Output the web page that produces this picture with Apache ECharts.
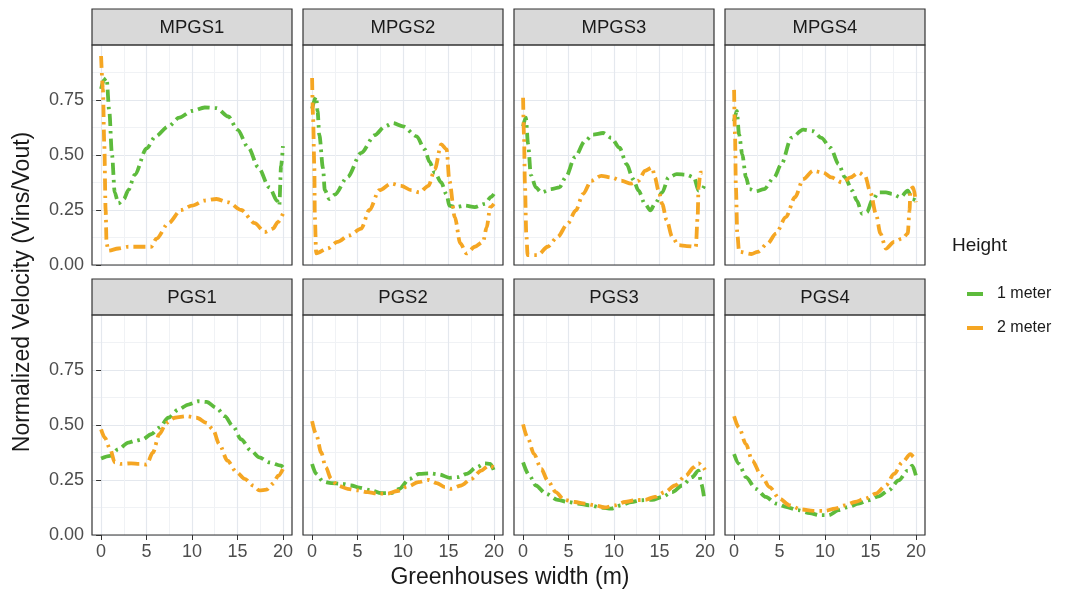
<!DOCTYPE html>
<html><head><meta charset="utf-8">
<script src="https://cdn.jsdelivr.net/npm/echarts@6/dist/echarts.min.js"></script>
<style>html,body{margin:0;padding:0;background:#fff}#c{width:1077px;height:596px}</style>
</head><body><div id="c"></div>
<script>
// ---------- data ----------
const panelNames = ['MPGS1','MPGS2','MPGS3','MPGS4','PGS1','PGS2','PGS3','PGS4'];
const seriesNames = ['1 meter','2 meter'];
const xTickValues = [0,5,10,15,20];
const xMinorValues = [2.5,7.5,12.5,17.5];
const yTickValues = [0,0.25,0.5,0.75];
const yMinorValues = [0.125,0.375,0.625,0.875];

const MPGS1_1m = [[0,0.80],[0.3,0.84],[0.6,0.85],[0.9,0.70],[1.2,0.50],[1.5,0.33],[1.9,0.28],[2.5,0.30],[3,0.34],[3.7,0.41],[5,0.53],[6,0.585],[7.4,0.63],[8.6,0.67],[10,0.70],[11.4,0.716],[12.7,0.713],[14,0.675],[15,0.615],[16.2,0.533],[17.3,0.443],[18.5,0.353],[19.4,0.29],[19.6,0.27],[19.8,0.45],[20,0.54]];
const MPGS1_2m = [[0,0.95],[0.2,0.80],[0.35,0.55],[0.5,0.25],[0.6,0.10],[0.8,0.065],[1.9,0.075],[3,0.083],[4.2,0.083],[5.5,0.083],[6.1,0.12],[7.4,0.19],[8.8,0.25],[10,0.27],[11.4,0.293],[12.7,0.30],[14,0.285],[15.4,0.25],[16.9,0.19],[18,0.15],[18.9,0.165],[19.45,0.195],[20,0.233]];
const MPGS2_1m = [[0,0.71],[0.45,0.765],[0.6,0.70],[0.8,0.59],[1.2,0.44],[1.4,0.34],[1.9,0.30],[2.5,0.32],[3.9,0.40],[5.4,0.51],[6.9,0.59],[8,0.63],[8.9,0.645],[10,0.63],[11.5,0.585],[12.4,0.525],[12.9,0.47],[13.5,0.42],[14.2,0.375],[14.8,0.32],[15.1,0.27],[15.7,0.263],[16.8,0.27],[17.9,0.263],[19,0.278],[19.7,0.31],[20,0.323]];
const MPGS2_2m = [[0,0.85],[0.1,0.68],[0.25,0.44],[0.3,0.22],[0.45,0.053],[1.7,0.075],[2.8,0.105],[4.1,0.135],[5.4,0.165],[6.3,0.25],[7.4,0.34],[8.7,0.37],[9.8,0.36],[10.9,0.34],[11.8,0.33],[12.8,0.36],[13.5,0.435],[14.2,0.548],[14.8,0.525],[15.1,0.383],[15.7,0.218],[16.3,0.098],[17,0.053],[17.9,0.083],[18.8,0.105],[19.2,0.17],[19.6,0.263],[20,0.278]];
const MPGS3_1m = [[0,0.63],[0.3,0.67],[0.55,0.55],[0.85,0.41],[1.4,0.353],[2,0.33],[3.1,0.345],[4,0.353],[4.7,0.40],[5.7,0.49],[6.8,0.563],[7.7,0.593],[8.8,0.60],[9.7,0.578],[10.6,0.533],[11.4,0.458],[12.1,0.39],[12.7,0.338],[13.4,0.278],[14,0.248],[14.5,0.278],[15.3,0.33],[16,0.398],[16.9,0.413],[18,0.41],[18.8,0.398],[19.3,0.338],[19.7,0.345],[20,0.368]];
const MPGS3_2m = [[0,0.76],[0.1,0.59],[0.2,0.37],[0.35,0.143],[0.5,0.045],[1.6,0.045],[2.7,0.083],[3.8,0.128],[4.9,0.188],[5.8,0.248],[6.6,0.323],[7.5,0.383],[8.6,0.405],[9.7,0.398],[10.8,0.383],[11.9,0.37],[12.7,0.383],[13.4,0.428],[14.2,0.443],[14.5,0.398],[14.9,0.338],[15.3,0.278],[15.8,0.203],[16.4,0.128],[17.1,0.09],[18,0.086],[19,0.083],[19.2,0.218],[19.3,0.353],[19.5,0.42],[20,0.42]];
const MPGS4_1m = [[0,0.653],[0.3,0.70],[0.55,0.593],[0.9,0.503],[1.3,0.40],[1.7,0.345],[2.4,0.335],[3.3,0.345],[4.4,0.398],[5.2,0.458],[6.3,0.578],[7.6,0.615],[8.7,0.608],[9.6,0.578],[10.6,0.533],[11.5,0.458],[12.2,0.398],[13,0.338],[13.5,0.293],[14.1,0.233],[14.6,0.24],[15.2,0.293],[15.9,0.33],[16.7,0.33],[17.4,0.323],[18.3,0.308],[19.1,0.338],[19.6,0.30],[20,0.293]];
const MPGS4_2m = [[0,0.796],[0.1,0.593],[0.2,0.353],[0.35,0.143],[0.55,0.06],[1.9,0.05],[2.6,0.06],[3.7,0.098],[4.6,0.143],[5.7,0.218],[6.7,0.308],[7.6,0.39],[8.7,0.428],[9.8,0.42],[10.7,0.398],[11.9,0.375],[12.8,0.398],[13.7,0.42],[14.4,0.405],[15,0.33],[15.6,0.233],[16.1,0.143],[16.7,0.075],[17.6,0.105],[18.5,0.12],[19.1,0.143],[19.3,0.248],[19.4,0.345],[19.7,0.353],[20,0.285]];
const PGS1_1m = [[0,0.348],[1,0.36],[1.9,0.39],[3,0.42],[3.7,0.428],[4.6,0.435],[5.5,0.458],[6.4,0.488],[7.4,0.533],[8.5,0.57],[9.6,0.593],[10.7,0.608],[11.6,0.605],[12.7,0.578],[13.6,0.54],[14.5,0.495],[15.4,0.435],[16.5,0.383],[17.4,0.353],[18.5,0.33],[19.8,0.315],[20,0.308]];
const PGS1_2m = [[0,0.48],[0.4,0.443],[1,0.39],[1.5,0.33],[2.2,0.323],[3.3,0.326],[4.2,0.323],[5,0.32],[5.7,0.375],[6.4,0.458],[7.2,0.51],[8.1,0.533],[9.4,0.54],[10.5,0.533],[11.6,0.51],[12.3,0.48],[13,0.413],[13.9,0.338],[14.9,0.285],[15.8,0.255],[16.7,0.225],[17.4,0.203],[18.2,0.206],[18.9,0.233],[19.5,0.27],[20,0.30]];
const PGS2_1m = [[0,0.323],[0.45,0.278],[1.2,0.243],[2.1,0.236],[3.2,0.233],[4.3,0.225],[5.2,0.215],[6.5,0.203],[7.6,0.19],[8.7,0.19],[9.6,0.21],[10.7,0.255],[11.8,0.278],[12.9,0.28],[14,0.275],[15.1,0.26],[16.1,0.263],[17,0.278],[18.1,0.308],[19,0.326],[19.6,0.323],[20,0.293]];
const PGS2_2m = [[0,0.518],[0.45,0.458],[1,0.375],[1.5,0.308],[2.1,0.255],[2.8,0.225],[3.9,0.21],[5,0.203],[6.1,0.195],[7.2,0.188],[8.3,0.188],[9.4,0.20],[10.5,0.22],[11.7,0.24],[12.8,0.25],[13.7,0.236],[14.6,0.218],[15.3,0.21],[16.4,0.225],[17.5,0.255],[18.6,0.293],[19.4,0.315],[20,0.308]];
const PGS3_1m = [[0,0.33],[0.7,0.27],[1.4,0.225],[2.5,0.188],[3.8,0.16],[4.9,0.15],[6,0.143],[7.3,0.135],[8.6,0.125],[9.7,0.12],[10.8,0.135],[11.9,0.15],[13,0.158],[14.2,0.16],[15.3,0.173],[16.4,0.195],[17.5,0.225],[18.6,0.263],[19.3,0.293],[19.6,0.233],[19.9,0.173]];
const PGS3_2m = [[0,0.503],[0.5,0.443],[1.2,0.368],[2,0.30],[2.7,0.248],[3.6,0.195],[4.5,0.16],[5.7,0.15],[6.8,0.143],[7.9,0.135],[9,0.125],[10.1,0.135],[11.2,0.15],[12.3,0.158],[13.4,0.16],[14.5,0.173],[15.6,0.195],[16.7,0.225],[17.9,0.27],[18.8,0.308],[19.3,0.326],[19.8,0.308],[20,0.296]];
const PGS4_1m = [[0,0.368],[0.55,0.323],[1.3,0.263],[2.4,0.21],[3.5,0.173],[4.6,0.143],[5.7,0.128],[7,0.113],[8.3,0.10],[9.4,0.09],[10.4,0.09],[11.5,0.113],[12.6,0.128],[13.7,0.143],[14.8,0.158],[15.9,0.176],[17,0.203],[18.1,0.248],[19.1,0.293],[19.6,0.315],[20,0.27]];
const PGS4_2m = [[0,0.54],[0.55,0.488],[1.3,0.413],[2,0.338],[3,0.27],[3.9,0.218],[5,0.165],[6.1,0.135],[7.4,0.116],[8.7,0.11],[10,0.11],[11.1,0.12],[12.2,0.135],[13.3,0.15],[14.4,0.165],[15.6,0.188],[16.7,0.225],[17.6,0.278],[18.5,0.33],[19.4,0.368],[19.8,0.353],[20,0.338]];

const panelData = [
  [MPGS1_1m, MPGS1_2m],[MPGS2_1m, MPGS2_2m],[MPGS3_1m, MPGS3_2m],[MPGS4_1m, MPGS4_2m],
  [PGS1_1m, PGS1_2m],[PGS2_1m, PGS2_2m],[PGS3_1m, PGS3_2m],[PGS4_1m, PGS4_2m]
];

// ---------- layout / style ----------
const colors = ['#5DBB3C','#F5A623'];
const panelLefts = [92, 303, 514, 725];
const panelTops = [45, 315];
const panelW = 200, panelH = 220, stripH = 36;
const FONT = 'Liberation Sans, Arial, sans-serif';
const txt = '#1A1A1A', tickTxt = '#4D4D4D';
const majorGrid = '#E4E8EE', minorGrid = '#F0F2F5';

const grids = [], xAxes = [], xMinorAxes = [], yAxes = [], yMinorAxes = [], series = [], graphics = [];
for (let i = 0; i < 8; i++) {
  const row = Math.floor(i / 4), col = i % 4;
  const left = panelLefts[col], top = panelTops[row];
  grids.push({left, top, width: panelW, height: panelH, show: true,
    borderColor: 'transparent', borderWidth: 0, backgroundColor: '#fff', containLabel: false});
  xAxes.push({type: 'value', gridIndex: i, min: -1, max: 21, position: 'bottom',
    axisLine: {show: false},
    axisTick: {show: row === 1, customValues: xTickValues, length: 5, lineStyle: {color: '#333'}},
    axisLabel: {show: row === 1, customValues: xTickValues, fontSize: 18, color: tickTxt, fontFamily: FONT, margin: 8},
    splitLine: {show: true, lineStyle: {color: majorGrid, width: 1.2}}});
  xMinorAxes.push({type: 'value', gridIndex: i, min: -1, max: 21, position: 'top',
    axisLine: {show: false},
    axisTick: {show: false, customValues: xMinorValues},
    axisLabel: {show: false, customValues: xMinorValues},
    splitLine: {show: true, lineStyle: {color: minorGrid, width: 1}}});
  yAxes.push({type: 'value', gridIndex: i, min: 0, max: 1, position: 'left',
    axisLine: {show: false},
    axisTick: {show: col === 0, customValues: yTickValues, length: 5, lineStyle: {color: '#333'}},
    axisLabel: {show: col === 0, customValues: yTickValues, fontSize: 18, color: tickTxt, fontFamily: FONT, margin: 8,
      formatter: v => v.toFixed(2)},
    splitLine: {show: true, lineStyle: {color: majorGrid, width: 1.2}},
    minorTick: {show: false}, minorSplitLine: {show: false}});
  yMinorAxes.push({type: 'value', gridIndex: i, min: 0, max: 1, position: 'right',
    axisLine: {show: false},
    axisTick: {show: false, customValues: yMinorValues},
    axisLabel: {show: false, customValues: yMinorValues},
    splitLine: {show: true, lineStyle: {color: minorGrid, width: 1}}});
  for (let s = 0; s < 2; s++) {
    series.push({type: 'line', name: seriesNames[s], xAxisIndex: i, yAxisIndex: i,
      data: panelData[i][s], showSymbol: false, smooth: 0.3, smoothMonotone: 'x',
      lineStyle: {color: colors[s], width: 3.8, type: [12, 5, 2.5, 5], cap: 'butt'},
      itemStyle: {color: colors[s]}, z: 3});
  }
  const stripTop = top - stripH;
  graphics.push({type: 'rect', shape: {x: left, y: top, width: panelW, height: panelH},
    style: {fill: 'none', stroke: '#333333', lineWidth: 1.2}, z: 20, silent: true});
  graphics.push({type: 'rect', shape: {x: left, y: stripTop, width: panelW, height: stripH},
    style: {fill: '#D9D9D9', stroke: '#333333', lineWidth: 1.2}, z: 10});
  graphics.push({type: 'text', x: left + panelW / 2, y: stripTop + stripH / 2 + 1,
    style: {text: panelNames[i], fontSize: 18.5, fill: txt, fontFamily: FONT, align: 'center', verticalAlign: 'middle'}, z: 11});
}
graphics.push({type: 'text', x: 23, y: 292, rotation: Math.PI / 2,
  style: {text: 'Normalized Velocity (Vins/Vout)', fontSize: 23, fill: txt, fontFamily: FONT, align: 'center', verticalAlign: 'middle'}});
graphics.push({type: 'text', x: 510, y: 578,
  style: {text: 'Greenhouses width (m)', fontSize: 23, fill: txt, fontFamily: FONT, align: 'center', verticalAlign: 'middle'}});
graphics.push({type: 'text', x: 952, y: 246,
  style: {text: 'Height', fontSize: 19, fill: txt, fontFamily: FONT, align: 'left', verticalAlign: 'middle'}});

const chart = echarts.init(document.getElementById('c'), null, {renderer: 'canvas'});
chart.setOption({
  animation: false,
  backgroundColor: '#fff',
  grid: grids,
  xAxis: xAxes.concat(xMinorAxes),
  yAxis: yAxes.concat(yMinorAxes),
  series,
  legend: {data: seriesNames.map((n, k) => ({name: n, icon: 'rect', itemStyle: {color: colors[k]}})),
    orient: 'vertical', left: 962, top: 281, itemWidth: 16, itemHeight: 4, itemGap: 18,
    textStyle: {fontSize: 16, color: txt, fontFamily: FONT, padding: [0, 0, 0, 9]}},
  graphic: graphics
});
</script></body></html>
